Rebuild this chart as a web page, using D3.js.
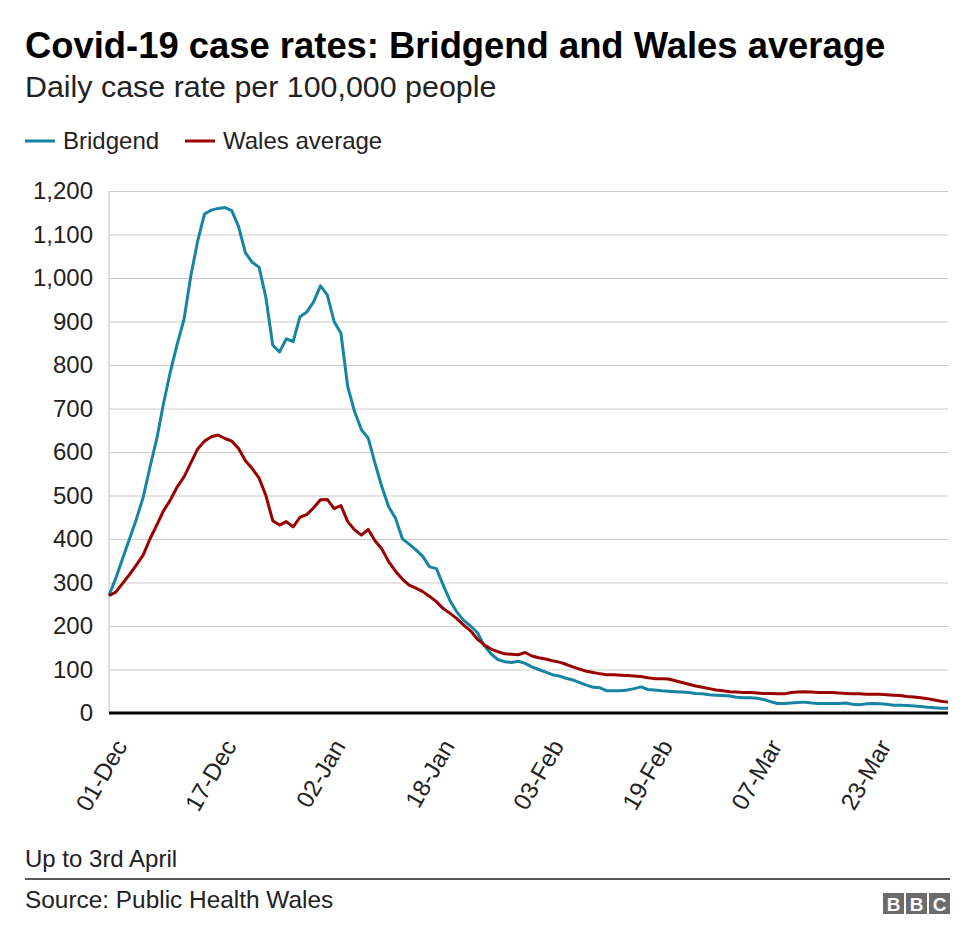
<!DOCTYPE html>
<html>
<head>
<meta charset="utf-8">
<script src="https://cdn.jsdelivr.net/npm/d3@7"></script>
<style>
  body { margin: 0; background: #fff; }
  text { font-family: "Liberation Sans", Arial, sans-serif; fill: #222; }
</style>
</head>
<body>
<svg id="chart" width="976" height="945"></svg>
<script>
// daily case rate per 100,000, one value per day from 1 Dec 2020
const firstDay = "2020-12-01";
const seriesNames = ["Bridgend", "Wales average"];
const seriesColors = ["#1784a3", "#990000"];

const bridgend = [
  270, 310, 355, 400, 445, 495, 565, 630, 712, 785,
  848, 905, 1005, 1085, 1147, 1156, 1160, 1162, 1155, 1118,
  1058, 1036, 1025, 955, 846, 830, 860, 854, 911, 922,
  945, 982, 961, 900, 873, 750, 693, 651, 632, 574,
  520, 474, 448, 401, 388, 375, 360, 336, 332, 294,
  258, 232, 213, 200, 185, 155, 136, 123, 118, 116,
  119, 114, 106, 100, 94, 88, 85, 80, 76, 70,
  64, 59, 58, 51, 51, 51, 53, 56, 60, 54,
  53, 51, 50, 49, 48, 47, 45, 44, 42, 41,
  40, 39, 36, 35, 35, 34, 31, 26, 22, 22,
  23, 24, 25, 23, 22, 22, 22, 22, 23, 20,
  19, 21, 22, 21, 20, 18, 18, 17, 16, 15,
  13, 12, 11, 11
];

const walesAverage = [
  270, 278, 298, 318, 340, 363, 400, 432, 465, 490,
  520, 543, 575, 607, 625, 635, 639, 631, 625, 608,
  580, 562, 540, 500, 442, 432, 440, 428, 450, 456,
  472, 490, 491, 470, 477, 440, 421, 409, 422, 396,
  377, 348, 326, 308, 294, 287, 279, 268, 256, 240,
  229, 217, 202, 189, 170, 157, 147, 141, 136, 135,
  134, 139, 131, 127, 124, 120, 117, 112, 106, 101,
  96, 93, 90, 88, 88, 87, 86, 85, 84, 81,
  79, 79, 78, 74, 70, 66, 62, 59, 56, 53,
  51, 49, 48, 47, 47, 46, 45, 45, 44, 44,
  47, 48, 49, 48, 47, 47, 47, 46, 45, 44,
  44, 43, 43, 43, 42, 41, 40, 38, 37, 35,
  33, 30, 27, 25
];

const yTicks = [0, 100, 200, 300, 400, 500, 600, 700, 800, 900, 1000, 1100, 1200];
const xTicks = ["2020-12-01", "2020-12-17", "2021-01-02", "2021-01-18",
                "2021-02-03", "2021-02-19", "2021-03-07", "2021-03-23"];

const svg = d3.select("#chart");
const parse = d3.utcParse("%Y-%m-%d");
const start = parse(firstDay);
const dates = bridgend.map((d, i) => d3.utcDay.offset(start, i));

const plotLeft = 109, plotRight = 948, plotTop = 191, plotBottom = 713;
const x = d3.scaleUtc().domain(d3.extent(dates)).range([plotLeft, plotRight]);
const y = d3.scaleLinear().domain([0, 1200]).range([plotBottom, plotTop]);

// titles
svg.append("text").attr("x", 25).attr("y", 58).text("Covid-19 case rates: Bridgend and Wales average")
  .style("font-size", "36.4px").style("font-weight", "bold").style("fill", "#000");
svg.append("text").attr("x", 25).attr("y", 97).text("Daily case rate per 100,000 people")
  .style("font-size", "30.4px");

// legend
let legendX = [25, 185];
seriesNames.forEach((name, i) => {
  svg.append("line").attr("x1", legendX[i]).attr("x2", legendX[i] + 30).attr("y1", 141).attr("y2", 141)
    .style("stroke", seriesColors[i]).style("stroke-width", 3);
  svg.append("text").attr("x", legendX[i] + 38).attr("y", 149).text(name).style("font-size", "24px");
});

// gridlines
let grid = svg.append("g").attr("transform", "translate(" + plotLeft + ",0)")
  .call(d3.axisLeft(y).tickValues(yTicks.filter(d => d > 0)).tickSize(-(plotRight - plotLeft)).tickFormat(""));
grid.select(".domain").remove();
grid.selectAll("line").style("stroke", "#cccccc").style("stroke-width", 1.2);
svg.append("line").attr("x1", plotLeft).attr("x2", plotLeft).attr("y1", plotTop).attr("y2", plotBottom)
  .style("stroke", "#cccccc").style("stroke-width", 1.2);

// y labels
let yAxis = svg.append("g").attr("transform", "translate(" + plotLeft + ",0)")
  .call(d3.axisLeft(y).tickValues(yTicks).tickSize(0).tickPadding(16).tickFormat(d3.format(",")));
yAxis.select(".domain").remove();
yAxis.selectAll("text").style("font-size", "24px").style("font-family", "Liberation Sans, Arial, sans-serif").style("fill", "#222");

// series lines
let line = d3.line().x((d, i) => x(dates[i])).y(d => y(d));
[bridgend, walesAverage].forEach((values, i) => {
  svg.append("path").datum(values).attr("d", line)
    .style("fill", "none").style("stroke", seriesColors[i]).style("stroke-width", 3)
    .style("stroke-linejoin", "round");
});

// zero line and x labels
svg.append("line").attr("x1", plotLeft).attr("x2", plotRight).attr("y1", y(0)).attr("y2", y(0))
  .style("stroke", "#000").style("stroke-width", 3);
let fmt = d3.utcFormat("%d-%b");
svg.append("g").selectAll("text").data(xTicks.map(parse)).join("text")
  .attr("transform", d => "translate(" + (x(d) + 19) + ",746) rotate(-60)")
  .attr("text-anchor", "end").text(d => fmt(d)).style("font-size", "24px");

// footer
svg.append("text").attr("x", 25).attr("y", 867).text("Up to 3rd April").style("font-size", "24px");
svg.append("line").attr("x1", 25).attr("x2", 950).attr("y1", 879).attr("y2", 879).style("stroke", "#222").style("stroke-width", 1.5);
svg.append("text").attr("x", 25).attr("y", 908).text("Source: Public Health Wales").style("font-size", "24.4px");

// BBC blocks
["B", "B", "C"].forEach((c, i) => {
  svg.append("rect").attr("x", 883 + i * 23).attr("y", 893).attr("width", 21).attr("height", 21).style("fill", "#6b6b6b");
  svg.append("text").attr("x", 893.5 + i * 23).attr("y", 911).attr("text-anchor", "middle").text(c)
    .style("font-size", "19px").style("font-weight", "bold").style("fill", "#fff");
});
</script>
</body>
</html>
